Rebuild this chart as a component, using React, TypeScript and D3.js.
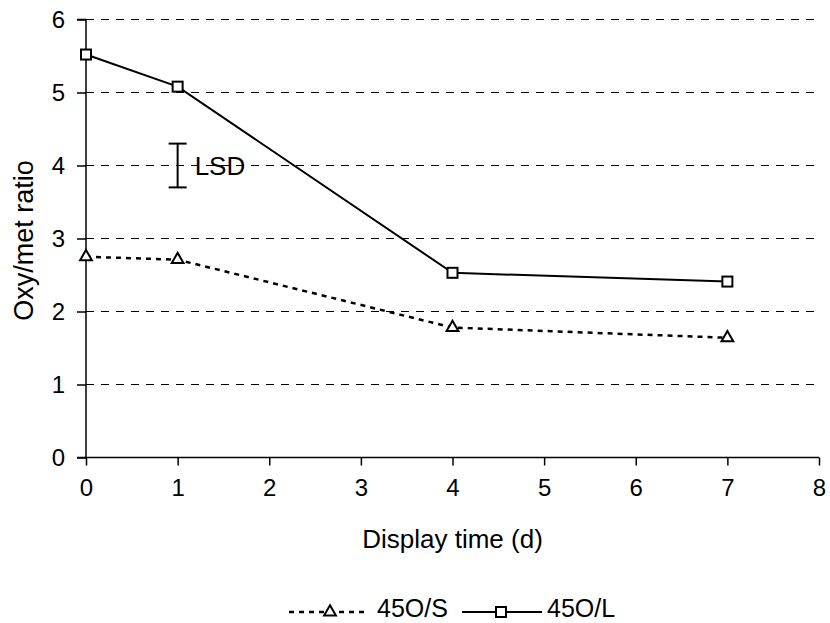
import { useEffect, useRef } from 'react'
import * as d3 from 'd3'

const days = [0, 1, 4, 7]
const ratioS = [2.75, 2.71, 1.78, 1.64]
const ratioL = [5.52, 5.08, 2.53, 2.41]
const seriesNames = ['45O/S', '45O/L']
const lsdDay = 1
const lsdLow = 3.7
const lsdHigh = 4.3
const xTicks = [0, 1, 2, 3, 4, 5, 6, 7, 8]
const yTicks = [0, 1, 2, 3, 4, 5, 6]

function App() {
    const ref = useRef<SVGSVGElement>(null)

    useEffect(() => {
        const width = 830
        const height = 623
        const font = 'Liberation Sans, Arial, sans-serif'

        const x = d3.scaleLinear().domain([0, 8]).range([86, 819])
        const y = d3.scaleLinear().domain([0, 6]).range([457.5, 19.5])

        const svg = d3.select(ref.current)
        svg.selectAll('*').remove()
        svg.attr('width', width).attr('height', height)

        // gridlines
        svg.append('g')
            .selectAll('line')
            .data(yTicks.filter(d => d > 0))
            .join('line')
            .attr('x1', x(0))
            .attr('x2', x(8))
            .attr('y1', d => y(d))
            .attr('y2', d => y(d))
            .attr('stroke', '#000')
            .attr('stroke-width', 1)
            .attr('stroke-dasharray', '8,7')

        // axes
        const yAxis = svg.append('g')
            .attr('transform', `translate(${x(0)},0)`)
            .call(d3.axisLeft(y).tickValues(yTicks).tickSize(9).tickPadding(12).tickFormat(d3.format('d')))
        const xAxis = svg.append('g')
            .attr('transform', `translate(0,${y(0)})`)
            .call(d3.axisBottom(x).tickValues(xTicks).tickSize(8).tickPadding(13).tickFormat(d3.format('d')))
        for (const g of [yAxis, xAxis]) {
            g.select('.domain').attr('stroke', '#000').attr('stroke-width', 1.5)
            g.selectAll('.tick line').attr('stroke', '#000').attr('stroke-width', 1.5)
            g.selectAll('.tick text')
                .attr('fill', '#000')
                .style('font-family', font)
                .style('font-size', '24px')
        }
        yAxis.select('.domain').attr('d', `M-9,${y(6)}H0V${y(0)}H-9`)
        xAxis.select('.domain').attr('d', `M${x(0)},0H${x(8)}`)

        const line = d3.line<number>()
            .x((_, i) => x(days[i]))
            .y(d => y(d))

        // 45O/S
        svg.append('path')
            .datum(ratioS)
            .attr('d', line)
            .attr('fill', 'none')
            .attr('stroke', '#000')
            .attr('stroke-width', 2.5)
            .attr('stroke-dasharray', '5,5')

        const tri = d3.symbol().type(d3.symbolTriangle).size(60)
        svg.append('g')
            .selectAll('path')
            .data(ratioS)
            .join('path')
            .attr('d', tri)
            .attr('transform', (d, i) => `translate(${x(days[i])},${y(d)})`)
            .attr('fill', '#fff')
            .attr('stroke', '#000')
            .attr('stroke-width', 2)

        // 45O/L
        svg.append('path')
            .datum(ratioL)
            .attr('d', line)
            .attr('fill', 'none')
            .attr('stroke', '#000')
            .attr('stroke-width', 2)

        svg.append('g')
            .selectAll('rect')
            .data(ratioL)
            .join('rect')
            .attr('x', (d, i) => x(days[i]) - 5)
            .attr('y', d => y(d) - 5)
            .attr('width', 10)
            .attr('height', 10)
            .attr('fill', '#fff')
            .attr('stroke', '#000')
            .attr('stroke-width', 2)

        // LSD bar
        const lsd = svg.append('g').attr('stroke', '#000').attr('stroke-width', 2)
        lsd.append('line')
            .attr('x1', x(lsdDay)).attr('x2', x(lsdDay))
            .attr('y1', y(lsdHigh)).attr('y2', y(lsdLow))
        for (const v of [lsdHigh, lsdLow]) {
            lsd.append('line')
                .attr('x1', x(lsdDay) - 9).attr('x2', x(lsdDay) + 9)
                .attr('y1', y(v)).attr('y2', y(v))
        }
        svg.append('text')
            .attr('x', x(lsdDay) + 17)
            .attr('y', y(4))
            .attr('dy', '0.35em')
            .style('font-family', font)
            .style('font-size', '26px')
            .text('LSD')

        // axis titles
        svg.append('text')
            .attr('x', (x(0) + x(8)) / 2)
            .attr('y', 548)
            .attr('text-anchor', 'middle')
            .style('font-family', font)
            .style('font-size', '26px')
            .text('Display time (d)')

        svg.append('text')
            .attr('transform', `translate(33,${y(3) + 2}) rotate(-90)`)
            .attr('text-anchor', 'middle')
            .style('font-family', font)
            .style('font-size', '27px')
            .text('Oxy/met ratio')

        // legend
        const ly = 612
        const leg = svg.append('g')
        leg.append('line')
            .attr('x1', 289).attr('x2', 366).attr('y1', ly).attr('y2', ly)
            .attr('stroke', '#000').attr('stroke-width', 2.5).attr('stroke-dasharray', '5,5')
        leg.append('path')
            .attr('d', tri)
            .attr('transform', `translate(330,${ly})`)
            .attr('fill', '#fff').attr('stroke', '#000').attr('stroke-width', 2)
        leg.append('text')
            .attr('x', 377).attr('y', ly + 5)
            .style('font-family', font).style('font-size', '25px')
            .text(seriesNames[0])
        leg.append('line')
            .attr('x1', 462).attr('x2', 542).attr('y1', ly).attr('y2', ly)
            .attr('stroke', '#000').attr('stroke-width', 2)
        leg.append('rect')
            .attr('x', 496).attr('y', ly - 5).attr('width', 10).attr('height', 10)
            .attr('fill', '#fff').attr('stroke', '#000').attr('stroke-width', 2)
        leg.append('text')
            .attr('x', 547).attr('y', ly + 5)
            .style('font-family', font).style('font-size', '25px')
            .text(seriesNames[1])
    }, [])

    return (
        <svg
            ref={ref}
            style={{ position: 'absolute', left: 0, top: 0, background: '#fff' }}
        />
    )
}

export default App
